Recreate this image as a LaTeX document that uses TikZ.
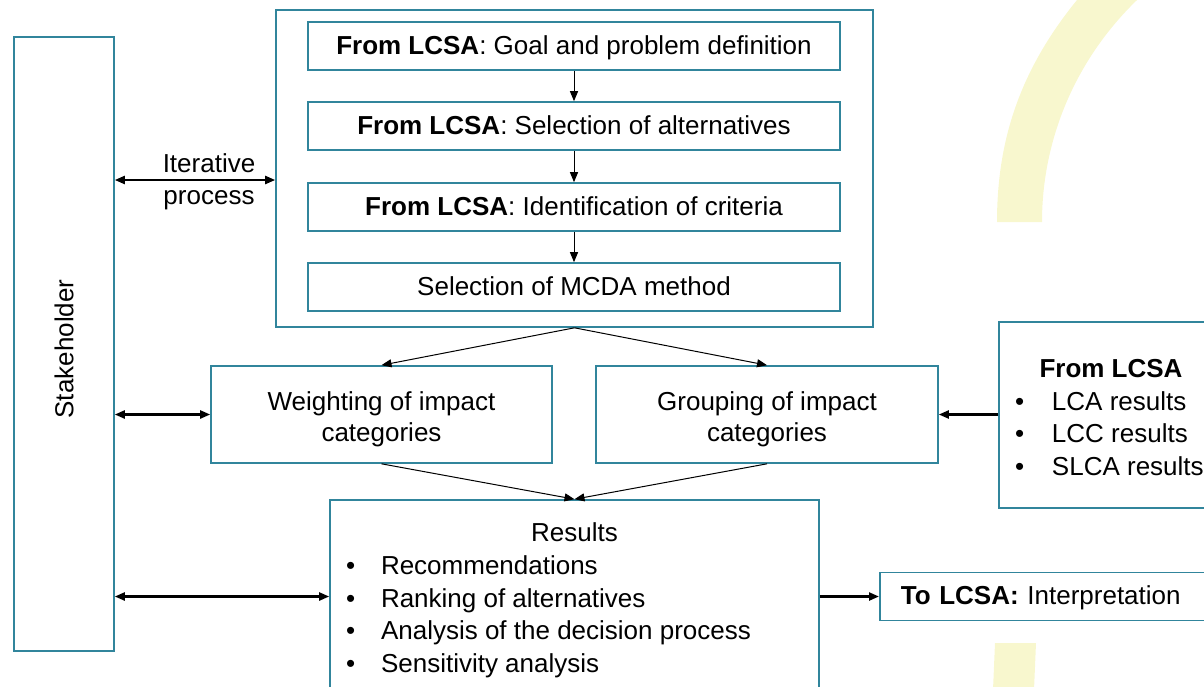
\documentclass[tikz,border=0pt]{standalone}
\usepackage{fontspec}
\setmainfont{Liberation Sans}
\usetikzlibrary{arrows.meta}
\definecolor{boxteal}{RGB}{49,133,156}
\definecolor{bandyellow}{RGB}{248,247,206}
\begin{document}
\begin{tikzpicture}[x=1pt,y=-1pt,
  font=\fontsize{26}{32.5}\selectfont,
  box/.style={draw=boxteal, line width=1.6pt, fill=white, inner sep=0pt, align=center},
  oneline/.style={text height=18.5pt, text depth=2.5pt},
  flow/.style={-{Triangle[length=10pt,width=8pt]}, line width=1pt},
  link/.style={{Triangle[length=10pt,width=8pt]}-{Triangle[length=10pt,width=8pt]}, line width=2.2pt},
  feed/.style={-{Triangle[length=10pt,width=8pt]}, line width=2.2pt}]
\useasboundingbox (0,0) rectangle (1204,686);
\clip (0,0) rectangle (1204,686);

% decorative background band
\fill[bandyellow] (997,222) .. controls (997,140) and (1020,70) .. (1077,0)
  -- (1137,0) .. controls (1075,60) and (1042,140) .. (1042,222) -- cycle;
\fill[bandyellow] (995,643) -- (1036,643) -- (1034,690) -- (993,690) -- cycle;

% stakeholder column
\node[box, minimum width=100, minimum height=614] (stk) at (64,344) {};
\node[rotate=90] (stklabel) at (64,349) {Stakeholder};

% problem structuring block
\node[box, minimum width=597, minimum height=317] (top) at (574.5,168.5) {};
\node[box, oneline, minimum width=532, minimum height=48] (s1) at (574,46) {\textbf{From LCSA}: Goal and problem definition};
\node[box, oneline, minimum width=532, minimum height=48] (s2) at (574,126) {\textbf{From LCSA}: Selection of alternatives};
\node[box, oneline, minimum width=532, minimum height=48] (s3) at (574,207) {\textbf{From LCSA}: Identification of criteria};
\node[box, oneline, minimum width=532, minimum height=48] (s4) at (574,287) {Selection of MCDA method};

% weighting and grouping
\node[box, text height=20pt, text depth=28pt, minimum width=341, minimum height=97] (w) at (381.5,414.5)
  {\fontsize{26}{30.5}\selectfont\begin{tabular}[t]{@{}c@{}}Weighting of impact\\categories\end{tabular}};
\node[box, text height=20pt, text depth=28pt, minimum width=342, minimum height=97] (g) at (767,414.5)
  {\fontsize{26}{30.5}\selectfont\begin{tabular}[t]{@{}c@{}}Grouping of impact\\categories\end{tabular}};

% inputs from LCSA
\node[box, text height=20pt, text depth=95pt, minimum width=224, minimum height=186] (src) at (1111,415)
  {\begin{tabular}[t]{@{}p{37pt}@{}p{155pt}@{}}
   \multicolumn{2}{c}{\textbf{From LCSA}}\\
   \textbullet & LCA results\\
   \textbullet & LCC results\\
   \textbullet & SLCA results
   \end{tabular}};

% results
\node[box, text height=20pt, text depth=130pt, minimum width=489, minimum height=193] (res) at (574.5,596.5)
  {\fontsize{26}{32.8}\selectfont
   \begin{tabular}[t]{@{}p{35pt}@{}p{422pt}@{}}
   \multicolumn{2}{c}{Results}\\
   \textbullet & Recommendations\\
   \textbullet & Ranking of alternatives\\
   \textbullet & Analysis of the decision process\\
   \textbullet & Sensitivity analysis
   \end{tabular}};

% output to LCSA
\node[box, oneline, anchor=west, minimum height=48, text width=330pt, inner xsep=21pt, align=left] (out) at (879,596.5)
  {\textbf{To LCSA:} Interpretation};

% connectors
\draw[flow] (s1.south) -- (s2.north);
\draw[flow] (s2.south) -- (s3.north);
\draw[flow] (s3.south) -- (s4.north);
\draw[flow] (top.south) -- (w.north);
\draw[flow] (top.south) -- (g.north);
\draw[flow] (w.south) -- (res.north);
\draw[flow] (g.south) -- (res.north);

\coordinate (iter) at (0,180);
\draw[link] (stk.east |- iter) -- (top.west |- iter);
\node[anchor=base] (itertext) at (209,172.7)
  {\fontsize{26}{31.3}\selectfont\begin{tabular}[t]{@{}c@{}}Iterative\\process\end{tabular}};
\draw[link] (stk.east |- w.west) -- (w.west);
\draw[feed] (src.west |- g.east) -- (g.east);
\draw[link] (stk.east |- res.west) -- (res.west);
\draw[feed] (res.east |- out.west) -- (out.west);
\end{tikzpicture}
\end{document}
